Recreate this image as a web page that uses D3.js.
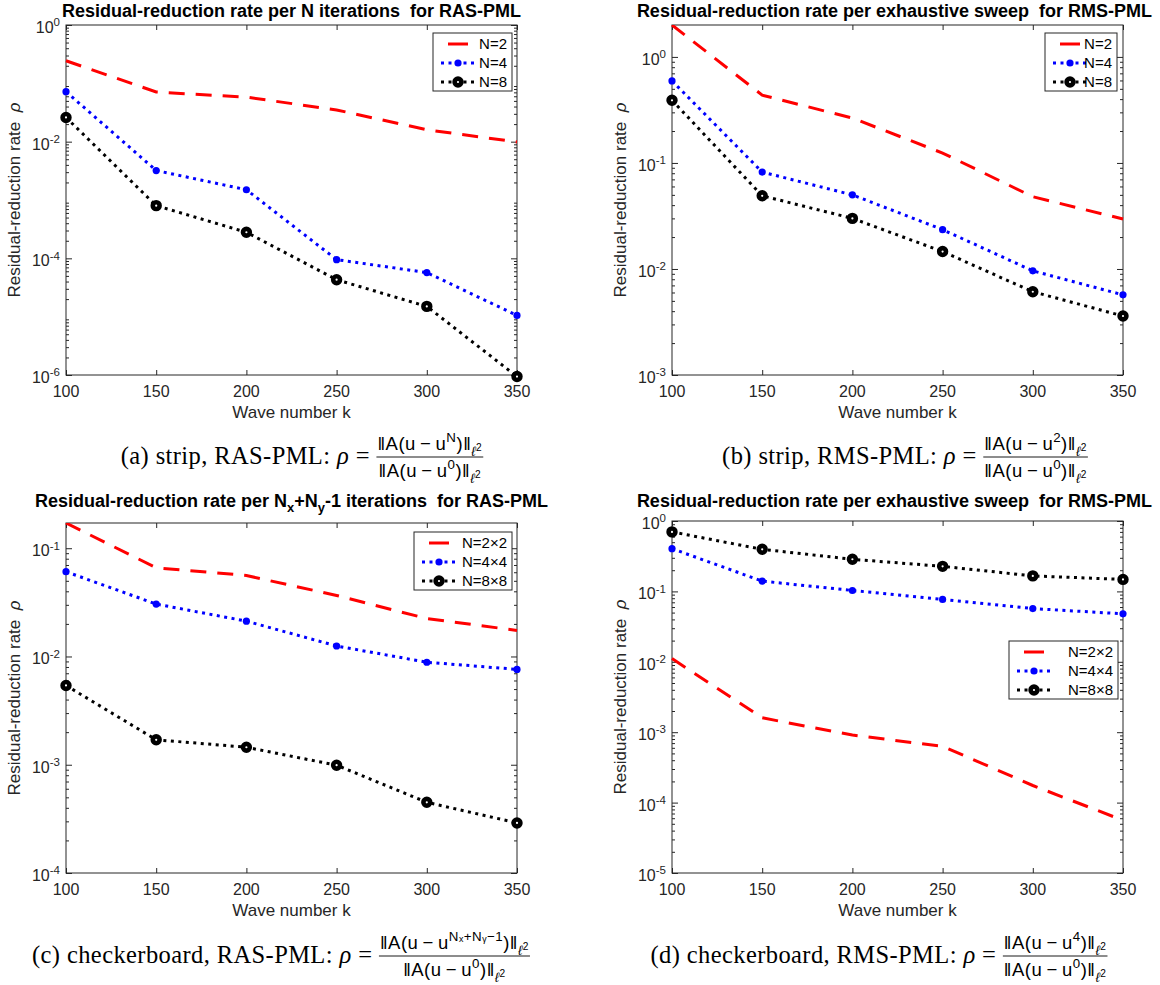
<!DOCTYPE html>
<html>
<head>
<meta charset="utf-8">
<script src="https://cdn.jsdelivr.net/npm/d3@7/dist/d3.min.js"></script>
<style>
body { margin: 0; background: #fff; }
text { font-family: "Liberation Sans", Arial, sans-serif; fill: #262626; white-space: pre; }
.cap { font-family: "Liberation Serif", "DejaVu Serif", serif; fill: #000; }
</style>
</head>
<body>
<div id="chart"></div>
<script>
// wave numbers on the x axis
var waveNumbers = [100, 150, 200, 250, 300, 350];
var xTicks = [100, 150, 200, 250, 300, 350];

// (a) strip, RAS-PML
var stripRasN2 = [0.244, 0.071, 0.058, 0.035, 0.016, 0.0099];
var stripRasN4 = [0.072, 0.0032, 0.0015, 9.5e-5, 5.7e-5, 1.05e-5];
var stripRasN8 = [0.026, 8.0e-4, 2.8e-4, 4.3e-5, 1.5e-5, 9.4e-7];

// (b) strip, RMS-PML
var stripRmsN2 = [2.0, 0.436, 0.265, 0.124, 0.048, 0.0296];
var stripRmsN4 = [0.594, 0.082, 0.050, 0.0235, 0.0096, 0.0057];
var stripRmsN8 = [0.39, 0.049, 0.030, 0.0146, 0.0061, 0.0036];

// (c) checkerboard, RAS-PML
var checkRasN2 = [0.171, 0.066, 0.056, 0.0366, 0.0224, 0.0174];
var checkRasN4 = [0.0607, 0.0305, 0.0212, 0.0125, 0.00885, 0.0076];
var checkRasN8 = [0.0054, 0.0017, 0.00145, 0.00099, 4.5e-4, 2.9e-4];

// (d) checkerboard, RMS-PML
var checkRmsN2 = [0.0111, 0.0016, 9.1e-4, 6.3e-4, 1.75e-4, 5.6e-5];
var checkRmsN4 = [0.405, 0.14, 0.103, 0.077, 0.057, 0.048];
var checkRmsN8 = [0.70, 0.396, 0.286, 0.227, 0.166, 0.148];

// y tick exponents for each panel
var yExpA = [0, -2, -4, -6];
var yExpB = [0, -1, -2, -3];
var yExpC = [-1, -2, -3, -4];
var yExpD = [0, -1, -2, -3, -4, -5];

var stripNames = ["N=2", "N=4", "N=8"];
var checkNames = ["N=2\u00d72", "N=4\u00d74", "N=8\u00d78"];

var width = 1160, height = 985;

var svg = d3.select("#chart").append("svg")
    .attr("width", width)
    .attr("height", height);

// line styles for the three series
var styles = [
    {color: "#ff0000", dash: "16,11", marker: null},
    {color: "#0000ff", dash: "3,4.5", marker: "dot"},
    {color: "#000000", dash: "3,4.5", marker: "circle"}
];

var panels = [
    {x0: 66, x1: 517, y0: 25, y1: 375, ydom: [1e-6, 1], exps: yExpA, ty: 17,
     series: [stripRasN2, stripRasN4, stripRasN8], names: stripNames,
     title: [["Residual-reduction rate per N iterations  for RAS-PML"]],
     legend: {x: 433, y: 33, w: 79}},
    {x0: 672, x1: 1123, y0: 25, y1: 375, ydom: [1e-3, 2], exps: yExpB, ty: 17,
     series: [stripRmsN2, stripRmsN4, stripRmsN8], names: stripNames,
     title: [["Residual-reduction rate per exhaustive sweep  for RMS-PML"]],
     legend: {x: 1045, y: 33, w: 72}},
    {x0: 66, x1: 517, y0: 523, y1: 873, ydom: [1e-4, 0.171], exps: yExpC, ty: 507,
     series: [checkRasN2, checkRasN4, checkRasN8], names: checkNames,
     title: [["Residual-reduction rate per N"], ["x", "sub"], ["+N"], ["y", "sub"], ["-1 iterations  for RAS-PML"]],
     legend: {x: 414, y: 532, w: 98}},
    {x0: 672, x1: 1123, y0: 521, y1: 873, ydom: [1e-5, 1], exps: yExpD, ty: 507,
     series: [checkRmsN2, checkRmsN4, checkRmsN8], names: checkNames,
     title: [["Residual-reduction rate per exhaustive sweep  for RMS-PML"]],
     legend: {x: 1009, y: 641, w: 109}}
];

// append a list of [text, kind, italic] pieces as tspans
function addPieces(t, pieces, base) {
    var shift = 0;
    pieces.forEach(function(p) {
        var ts = t.append("tspan").text(p[0]);
        var target = 0, fs = null;
        if (p[1] === "sub") { target = base * 0.3; fs = base * 0.72; }
        if (p[1] === "sup") { target = -base * 0.42; fs = base * 0.72; }
        if (p[1] === "subsup") { target = base * 0.05; fs = base * 0.55; }
        if (fs) ts.style("font-size", fs + "px");
        if (p[2]) ts.style("font-style", "italic");
        ts.attr("dy", (target - shift).toFixed(2));
        shift = target;
    });
    return t;
}

function minorTicks(dom) {
    var out = [];
    var lo = Math.floor(Math.log10(dom[0])), hi = Math.ceil(Math.log10(dom[1]));
    for (var e = lo; e <= hi; e++) {
        for (var m = 2; m <= 9; m++) {
            var v = m * Math.pow(10, e);
            if (v > dom[0] && v < dom[1]) out.push(v);
        }
    }
    return out;
}

function drawMarker(sel, st) {
    if (st.marker === "dot") {
        sel.attr("r", 3.6).attr("fill", st.color).attr("stroke", "none");
    } else {
        sel.attr("r", 3.4).attr("fill", "#fff")
            .attr("stroke", st.color).attr("stroke-width", 4.6);
    }
}

panels.forEach(function(p) {
    var x = d3.scaleLinear().domain([100, 350]).range([p.x0, p.x1]);
    var y = d3.scaleLog().domain(p.ydom).range([p.y1, p.y0]);
    var majors = p.exps.map(function(e) { return Math.pow(10, e); });
    var minors = minorTicks(p.ydom);

    var g = svg.append("g");

    // inward ticks on all four sides
    function tickAxis(axis, tx, ty) {
        g.append("g").attr("transform", "translate(" + tx + "," + ty + ")")
            .call(axis)
            .call(function(s) {
                s.select(".domain").remove();
                s.selectAll("text").remove();
                s.selectAll("line").attr("stroke", "#262626");
            });
    }
    tickAxis(d3.axisBottom(x).tickValues(xTicks).tickSize(-5), 0, p.y1);
    tickAxis(d3.axisTop(x).tickValues(xTicks).tickSize(-5), 0, p.y0);
    tickAxis(d3.axisLeft(y).tickValues(majors).tickSize(-6), p.x0, 0);
    tickAxis(d3.axisRight(y).tickValues(majors).tickSize(-6), p.x1, 0);
    tickAxis(d3.axisLeft(y).tickValues(minors).tickSize(-3), p.x0, 0);
    tickAxis(d3.axisRight(y).tickValues(minors).tickSize(-3), p.x1, 0);

    g.append("rect")
        .attr("x", p.x0).attr("y", p.y0)
        .attr("width", p.x1 - p.x0).attr("height", p.y1 - p.y0)
        .attr("fill", "none").attr("stroke", "#262626").attr("stroke-width", 1);

    // tick labels
    xTicks.forEach(function(v) {
        g.append("text")
            .attr("x", x(v)).attr("y", p.y1 + 22)
            .attr("text-anchor", "middle")
            .style("font-size", "16px")
            .text(v);
    });
    p.exps.forEach(function(e) {
        var t = g.append("text")
            .attr("x", p.x0 - 6).attr("y", y(Math.pow(10, e)) + 8)
            .attr("text-anchor", "end")
            .style("font-size", "16px");
        addPieces(t, [["10"], [String(e), "sup"]], 16);
    });

    // axis labels
    g.append("text")
        .attr("x", (p.x0 + p.x1) / 2).attr("y", p.y1 + 43)
        .attr("text-anchor", "middle")
        .style("font-size", "17px")
        .text("Wave number k");
    var yl = g.append("text")
        .attr("transform", "translate(" + (p.x0 - 46) + "," + ((p.y0 + p.y1) / 2) + ") rotate(-90)")
        .attr("text-anchor", "middle")
        .style("font-size", "17px");
    addPieces(yl, [["Residual-reduction rate  "], ["\u03c1", null, true]], 17);

    // title, kept inside the page on the right
    var tt = g.append("text")
        .attr("x", (p.x0 + p.x1) / 2).attr("y", p.ty)
        .attr("text-anchor", "middle")
        .style("font-size", "18px")
        .style("font-weight", "bold")
        .style("fill", "#000");
    addPieces(tt, p.title, 18);
    var tb = tt.node().getBBox();
    if (tb.x + tb.width > width - 8) {
        tt.attr("x", (p.x0 + p.x1) / 2 - (tb.x + tb.width - (width - 8)));
    }

    // series
    var line = d3.line()
        .x(function(d, i) { return x(waveNumbers[i]); })
        .y(function(d) { return y(d); });

    var clip = "clip" + p.x0 + p.y0;
    svg.append("clipPath").attr("id", clip)
        .append("rect").attr("x", p.x0 - 8).attr("y", p.y0)
        .attr("width", p.x1 - p.x0 + 16).attr("height", p.y1 - p.y0 + 8);

    var plot = g.append("g").attr("clip-path", "url(#" + clip + ")");
    p.series.forEach(function(vals, si) {
        var st = styles[si];
        plot.append("path")
            .attr("d", line(vals))
            .attr("fill", "none")
            .attr("stroke", st.color)
            .attr("stroke-width", 3)
            .attr("stroke-dasharray", st.dash);
        if (st.marker) {
            plot.selectAll(null).data(vals).enter()
                .append("circle")
                .attr("cx", function(d, i) { return x(waveNumbers[i]); })
                .attr("cy", function(d) { return y(d); })
                .call(drawMarker, st);
        }
    });

    // legend
    var L = p.legend, rowH = 19;
    var lg = g.append("g");
    lg.append("rect")
        .attr("x", L.x).attr("y", L.y)
        .attr("width", L.w).attr("height", rowH * 3 + 1)
        .attr("fill", "#fff").attr("stroke", "#262626").attr("stroke-width", 1);
    p.names.forEach(function(name, si) {
        var st = styles[si];
        var cy = L.y + 11 + si * rowH;
        var cx = L.x + 25;
        if (si === 0) {
            lg.append("line").attr("x1", cx - 10).attr("x2", cx + 10)
                .attr("y1", cy).attr("y2", cy)
                .attr("stroke", st.color).attr("stroke-width", 3);
        } else {
            lg.append("line").attr("x1", cx - 17).attr("x2", cx + 19)
                .attr("y1", cy).attr("y2", cy)
                .attr("stroke", st.color).attr("stroke-width", 3)
                .attr("stroke-dasharray", st.dash);
            lg.append("circle").attr("cx", cx).attr("cy", cy).call(drawMarker, st);
        }
        lg.append("text")
            .attr("x", L.x + L.w - 5).attr("y", cy + 5)
            .attr("text-anchor", "end")
            .style("font-size", "15px")
            .style("fill", "#000")
            .text(name);
    });
});

// captions under each panel
var minus = "\u2009\u2212\u2009";
var captions = [
    {cx: 302, y: 464, prefix: "(a) strip, RAS-PML: ", num: [["\u2016A(u" + minus + "u"], ["N", "sup"], [")\u2016"], ["\u2113", "sub", true], ["2", "subsup"]]},
    {cx: 905, y: 464, prefix: "(b) strip, RMS-PML: ", num: [["\u2016A(u" + minus + "u"], ["2", "sup"], [")\u2016"], ["\u2113", "sub", true], ["2", "subsup"]]},
    {cx: 281, y: 963, prefix: "(c) checkerboard, RAS-PML: ", num: [["\u2016A(u" + minus + "u"], ["N\u2093+N\u1d67\u22121", "sup"], [")\u2016"], ["\u2113", "sub", true], ["2", "subsup"]]},
    {cx: 879, y: 963, prefix: "(d) checkerboard, RMS-PML: ", num: [["\u2016A(u" + minus + "u"], ["4", "sup"], [")\u2016"], ["\u2113", "sub", true], ["2", "subsup"]]}
];
var den = [["\u2016A(u" + minus + "u"], ["0", "sup"], [")\u2016"], ["\u2113", "sub", true], ["2", "subsup"]];

captions.forEach(function(c) {
    var g = svg.append("g");
    var pre = g.append("text").attr("class", "cap")
        .attr("y", c.y).style("font-size", "24.5px").style("letter-spacing", "0.4px");
    pre.append("tspan").text(c.prefix);
    pre.append("tspan").style("font-style", "italic").text("\u03c1");
    pre.append("tspan").text(" = ");
    var nt = addPieces(g.append("text").attr("y", c.y - 14)
        .attr("text-anchor", "middle").style("font-size", "18.5px")
        .style("letter-spacing", "0.5px").style("fill", "#000"), c.num, 18.5);
    var dt = addPieces(g.append("text").attr("y", c.y + 13)
        .attr("text-anchor", "middle").style("font-size", "18.5px")
        .style("letter-spacing", "0.5px").style("fill", "#000"), den, 18.5);
    var pw = pre.node().getComputedTextLength();
    var fw = Math.max(nt.node().getComputedTextLength(), dt.node().getComputedTextLength()) + 2;
    var start = c.cx - (pw + fw) / 2;
    pre.attr("x", start);
    var fc = start + pw + fw / 2;
    nt.attr("x", fc);
    dt.attr("x", fc);
    g.append("line")
        .attr("x1", fc - fw / 2).attr("x2", fc + fw / 2)
        .attr("y1", c.y - 7).attr("y2", c.y - 7)
        .attr("stroke", "#000").attr("stroke-width", 0.9);
});
</script>
</body>
</html>
